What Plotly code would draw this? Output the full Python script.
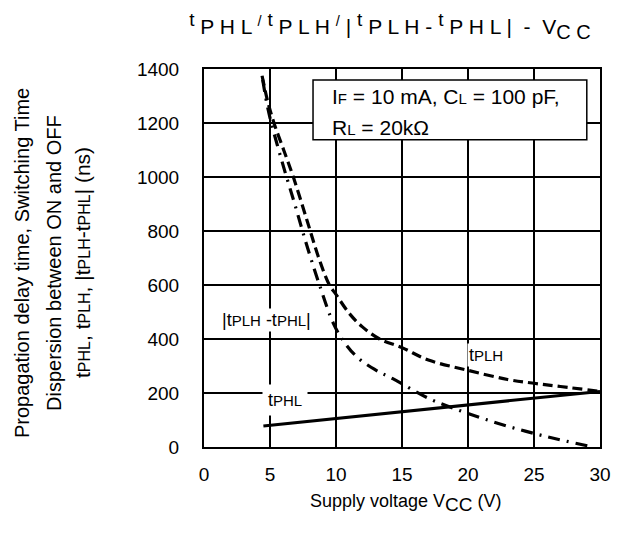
import plotly.graph_objects as go

# ---- data ----
vcc_tphl = [4.5, 10, 15, 20, 25, 30]
tphl = [78, 106, 131, 156, 181, 206]

vcc_tplh = [4.4, 4.8, 5.3, 6.0, 6.8, 7.8, 8.73, 9.5, 10, 11, 12, 13.3, 15, 17, 20, 23, 25, 27, 30]
tplh = [1375, 1285, 1200, 1105, 995, 840, 695, 600, 565, 495, 445, 400, 368, 322, 284, 250, 236, 224, 206]

vcc_diff = [4.45, 4.75, 5.1, 6.0, 6.89, 7.78, 8.73, 9.8, 10.6, 11.6, 12.9, 14.3, 17.07, 20, 23, 26, 29.1]
tdiff = [1360, 1275, 1200, 1042, 897, 748, 603, 458, 390, 333, 288, 253, 179, 124, 77, 38, 4]

x_ticks = [0, 5, 10, 15, 20, 25, 30]
y_ticks = [0, 200, 400, 600, 800, 1000, 1200, 1400]

FONT = "Liberation Sans, Arial, sans-serif"


def S(t, sz=15):
    return f'<span style="font-size:{sz}px">{t}</span>'


def spaced(t):
    return " ".join(t)


# page is offset by the 8px body margin -> plot area lands at 204..600 x 69..447
ML, MR, MT, MB = 196, 34, 61, 97
W, H = 626, 536
PW, PH = W - ML - MR, H - MT - MB


def px(xp):
    return (xp - 8 - ML) / PW


def py(yp):
    return (H - MB - (yp - 8)) / PH


fig = go.Figure()
fig.add_trace(go.Scatter(x=vcc_tphl, y=tphl, mode="lines",
                         line=dict(color="black", width=3), showlegend=False))
fig.add_trace(go.Scatter(x=vcc_tplh, y=tplh, mode="lines", line_shape="spline",
                         line=dict(color="black", width=3.2, dash="10px,5px"), showlegend=False))
fig.add_trace(go.Scatter(x=vcc_diff, y=tdiff, mode="lines", line_shape="spline",
                         line=dict(color="black", width=3.2, dash="12px,7px,2px,7px"), showlegend=False))

T = "<sup>" + S("t", 19) + "</sup>"
SL = "<sup>/</sup>"
title_txt = " ".join([
    T + " " + spaced("PHL"), SL, T + " " + spaced("PLH"), SL, "|", T + " " + spaced("PLH"),
    "-", T + " " + spaced("PHL"), "|", " - ", "V" + "<sub>" + S(spaced("CC"), 20) + "</sub>"])

fig.update_layout(
    width=W, height=H,
    margin=dict(l=ML, r=MR, t=MT, b=MB),
    paper_bgcolor="white", plot_bgcolor="white",
    font=dict(family=FONT, size=19, color="black"),
    showlegend=False,
    title=dict(text=title_txt, x=(390 - 8) / W, xanchor="center",
               y=1 - (27 - 8) / H, yanchor="middle",
               font=dict(family=FONT, size=21)),
    xaxis=dict(range=[0, 30], tickvals=x_ticks, ticktext=[str(v) for v in x_ticks],
               showgrid=True, gridcolor="black", gridwidth=1.5, zeroline=False,
               showline=True, linecolor="black", linewidth=2, mirror=True,
               ticks="outside", ticklen=9, tickcolor="rgba(0,0,0,0)"),
    yaxis=dict(range=[0, 1400], tickvals=y_ticks, ticktext=[str(v) for v in y_ticks],
               showgrid=True, gridcolor="black", gridwidth=1.5, zeroline=False,
               showline=True, linecolor="black", linewidth=2, mirror=True,
               ticks="outside", ticklen=19, tickcolor="rgba(0,0,0,0)"),
)

# x-axis title
fig.add_annotation(text="Supply voltage V" + "<sub>" + S("CC", 19) + "</sub> (V)",
                   xref="paper", yref="paper", x=px(406), y=py(503),
                   xanchor="center", yanchor="middle", showarrow=False,
                   font=dict(size=18))

# y-axis title as three rotated lines
ylines = [("Propagation delay time, Switching Time", 20),
          ("Dispersion between ON and OFF", 20),
          ("t" + S("PHL", 16) + ", t" + S("PLH", 16) + ", |t" + S("PLH", 16) + "-t"
           + S("PHL", 16) + "| (ns)", 21)]
for xpx, (txt, fs) in zip([22, 54, 82], ylines):
    fig.add_annotation(text=txt, textangle=-90, xref="paper", yref="paper",
                       x=px(xpx), y=py(263),
                       xanchor="center", yanchor="middle", showarrow=False,
                       font=dict(size=fs))

# condition box
fig.add_shape(type="rect", xref="x", yref="y", x0=8.26, x1=29.0, y0=1138, y1=1359,
              line=dict(color="black", width=1.5), fillcolor="white", layer="above")
fig.add_annotation(text="I" + S("F", 15) + " = 10 mA, C" + S("L", 15) + " = 100 pF,",
                   x=9.55, y=1300, xanchor="left", yanchor="middle", showarrow=False,
                   font=dict(size=21))
fig.add_annotation(text="R" + S("L", 15) + " = 20kΩ",
                   x=9.55, y=1185, xanchor="left", yanchor="middle", showarrow=False,
                   font=dict(size=21))

# curve labels
fig.add_annotation(text="|t" + S("PLH") + " -t" + S("PHL") + "|", x=4.7, y=470,
                   showarrow=False, bgcolor="white", font=dict(size=18))
fig.add_annotation(text="t" + S("PHL"), x=6.1, y=173, showarrow=False,
                   bgcolor="white", borderpad=5, font=dict(size=18))
fig.add_annotation(text="t" + S("PLH"), x=21.4, y=340, showarrow=False,
                   bgcolor="white", font=dict(size=18))

fig.write_html("out.html")
